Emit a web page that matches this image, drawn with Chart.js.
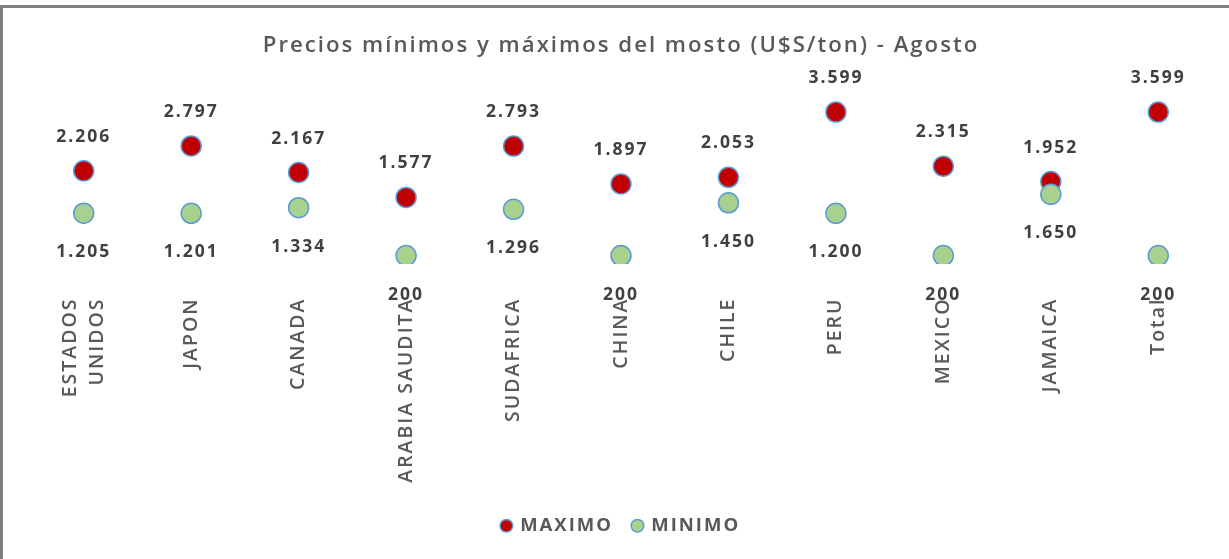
<!DOCTYPE html>
<html>
<head>
<meta charset="utf-8">
<title>Precios mosto</title>
<script src="https://cdn.jsdelivr.net/npm/chart.js@4"></script>
<style>
  body { margin: 0; background: #fff; }
  canvas { display: block; }
</style>
</head>
<body>
<canvas id="chart" width="1229" height="559"></canvas>
<script>
// countries and the min / max price of each one (U$S/ton)
const paises = [
  ["ESTADOS", "UNIDOS"], "JAPON", "CANADA", "ARABIA SAUDITA", "SUDAFRICA",
  "CHINA", "CHILE", "PERU", "MEXICO", "JAMAICA", "Total"
];
const maximos = [2206, 2797, 2167, 1577, 2793, 1897, 2053, 3599, 2315, 1952, 3599];
const minimos = [1205, 1201, 1334, 200, 1296, 200, 1450, 1200, 200, 1650, 200];

const gris = "#595959";
const tickLineHeight = 1.4;

// 2206 -> "2.206"
function formato(v) {
  return String(v).replace(/\B(?=(\d{3})+(?!\d))/g, ".");
}

// spaced out lettering like the office theme
const espaciado = {
  id: "espaciado",
  beforeUpdate(chart) {
    chart.ctx.letterSpacing = "2px";
  },
  beforeDraw(chart) {
    chart.ctx.letterSpacing = "2px";
    // center two-line category labels on their tick
    const items = chart.scales.x.getLabelItems();
    items.forEach(item => {
      if (Array.isArray(item.label) && !item._centrado) {
        item.options.translation[0] -= item.font.lineHeight * (item.label.length - 1) / 2;
        item._centrado = true;
      }
    });
  }
};

// value labels: above the max, below the min
const etiquetas = {
  id: "etiquetas",
  afterDatasetsDraw(chart) {
    const ctx = chart.ctx;
    ctx.save();
    ctx.font = 'bold 17.5px "Open Sans", sans-serif';
    ctx.fillStyle = "#404040";
    ctx.textAlign = "center";
    ctx.textBaseline = "middle";
    chart.data.datasets.forEach((ds, i) => {
      const meta = chart.getDatasetMeta(i);
      meta.data.forEach((pt, j) => {
        const dy = i === 0 ? -34 : 39;
        ctx.fillText(formato(ds.data[j]), pt.x, pt.y + dy);
      });
    });
    ctx.restore();
  }
};

// frame lines on the top and left edge
const marco = {
  id: "marco",
  afterDraw(chart) {
    const ctx = chart.ctx;
    ctx.save();
    ctx.fillStyle = "#808080";
    ctx.fillRect(0, 5, chart.width, 3);
    ctx.fillRect(0, 5, 3, chart.height - 5);
    ctx.restore();
  }
};

const data = {
  labels: paises,
  datasets: [
    {
      label: "MAXIMO",
      data: maximos,
      showLine: false,
      order: 1,
      pointRadius: 10,
      pointHoverRadius: 10,
      pointBorderWidth: 1.5,
      pointBackgroundColor: "#C00000",
      pointBorderColor: "#5B9BD5",
      backgroundColor: "#C00000",
      borderColor: "#5B9BD5"
    },
    {
      label: "MINIMO",
      data: minimos,
      showLine: false,
      order: 0,
      pointRadius: 10,
      pointHoverRadius: 10,
      pointBorderWidth: 1.5,
      pointBackgroundColor: "#A9D18E",
      pointBorderColor: "#5B9BD5",
      backgroundColor: "#A9D18E",
      borderColor: "#5B9BD5"
    }
  ]
};

Chart.defaults.font.family = '"Open Sans", sans-serif';

const config = {
  type: "line",
  data: data,
  options: {
    responsive: false,
    animation: false,
    events: [],
    layout: { padding: { left: 30, right: 17, top: 0, bottom: 14 } },
    plugins: {
      title: {
        display: true,
        text: "Precios mínimos y máximos del mosto (U$S/ton) - Agosto",
        color: gris,
        font: { size: 22.2, weight: "600" },
        padding: { top: 32.5, bottom: 36 }
      },
      legend: {
        position: "bottom",
        labels: {
          usePointStyle: true,
          pointStyle: "circle",
          boxWidth: 9,
          boxHeight: 9,
          padding: 20,
          color: gris,
          font: { size: 18.5, weight: "bold" },
          sort: (a, b) => a.datasetIndex - b.datasetIndex
        }
      },
      tooltip: { enabled: false }
    },
    scales: {
      x: {
        offset: true,
        grid: { display: false, drawTicks: false },
        border: { display: false },
        ticks: {
          color: gris,
          font: { size: 19.5, weight: "600", lineHeight: tickLineHeight },
          minRotation: 90,
          maxRotation: 90,
          autoSkip: false,
          padding: 33.5
        },
        afterFit(scale) {
          scale.height = 232.5;
        }
      },
      y: {
        display: false,
        min: 0,
        max: 4000
      }
    }
  },
  plugins: [espaciado, etiquetas, marco]
};

const myChart = new Chart(document.getElementById("chart"), config);
</script>
</body>
</html>
